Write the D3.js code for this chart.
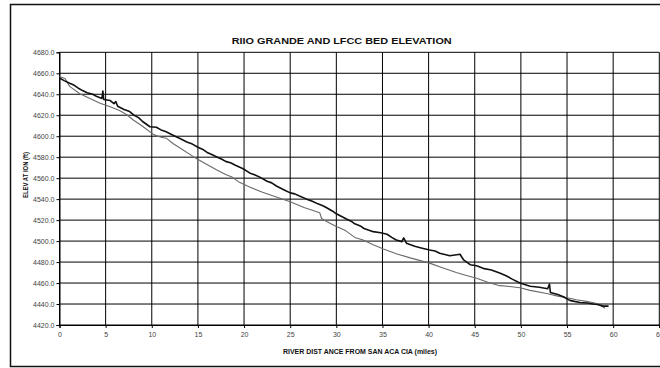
<!DOCTYPE html>
<html>
<head>
<meta charset="utf-8">
<script src="https://cdn.jsdelivr.net/npm/d3@7"></script>
<style>
  html, body { margin: 0; padding: 0; background: #fff; }
  svg { display: block; font-family: Arial, "Liberation Sans", sans-serif; }
</style>
</head>
<body>
<svg id="chart" width="660" height="368"></svg>
<script>
// River mile (from San Acacia) and bed elevation (ft) for the main channel
const rioMiles = [0, 0.5, 1.1, 1.6, 2, 2.5, 3, 3.6, 4, 4.6, 4.7, 4.8, 5.5, 5.9, 6.1, 6.3, 7, 7.6, 8, 8.6, 9, 9.8, 10.5, 11, 11.5, 12.3,
  13, 13.8, 14.4, 15, 15.6, 16, 16.5, 17, 17.6, 18, 18.6, 19, 19.9, 20.6, 21.2, 21.7, 22.5, 23, 23.5, 24.3, 25, 25.5, 26, 26.8, 27.4, 28, 28.6, 29, 29.6, 30, 31.1,
  31.6, 32, 32.6, 33, 34, 34.8, 35.5, 36, 36.5, 37.1, 37.3, 37.6, 38.5, 39.2, 40.1, 40.7, 41.2, 42.3, 43.4, 43.8, 44.5, 45.2, 45.9, 46.8, 47.7, 48.4, 49, 49.9,
  51, 52, 52.9, 53.1, 53.2, 54, 54.6, 55.3, 55.8, 56.4, 57.2, 57.8, 58.3, 58.9, 59.5];
const rioElev = [4655.5, 4653, 4650.5, 4648.5, 4646, 4643.5, 4641.5, 4640, 4638, 4636, 4643, 4635, 4634, 4631, 4633, 4628.5, 4625.5, 4623.5, 4620.5, 4617.5, 4614, 4609, 4608.5, 4606, 4604.5, 4601,
  4598, 4594.5, 4592.5, 4589.5, 4587, 4584.5, 4582.5, 4580.5, 4578, 4576, 4574.5, 4572.5, 4569, 4565, 4563, 4561, 4557, 4555.5, 4552.5, 4549, 4546, 4545, 4543, 4540, 4538, 4535.5, 4533.5, 4531.5, 4528.5, 4526, 4521,
  4519, 4516.5, 4514.5, 4512, 4509, 4508, 4506.5, 4503.5, 4501, 4499.5, 4503, 4498, 4495, 4493.5, 4491.5, 4490.5, 4488.5, 4486, 4487.5, 4482, 4477.5, 4476.5, 4474, 4472.5, 4469.5, 4467, 4464, 4460,
  4457, 4456, 4454.5, 4459, 4451, 4449, 4447, 4443.5, 4442.5, 4441.5, 4441, 4440, 4439.5, 4438, 4438];

// Low Flow Conveyance Channel bed elevation (ft)
const lfccMiles = [0, 0.6, 1.1, 2.2, 3.3, 4.4, 5.5, 6.5, 7.3, 8, 9, 10.2, 11, 11.6, 12.3, 13.1, 14.5, 15.5, 17, 18,
  18.7, 19.5, 20.6, 22, 23.5, 25, 26.5, 28.2, 28.4, 29, 30, 31, 32, 32.9, 34, 35.1, 36.5, 38, 40.1, 41.5,
  43, 44, 45.2, 46.5, 47.7, 49, 49.9, 51, 52.8, 54, 55.3, 56, 57.1, 58, 58.6, 59.1];
const lfccElev = [4657, 4655, 4647.5, 4640.5, 4636, 4631.5, 4628, 4624.5, 4620.5, 4615.5, 4609.5, 4601.5, 4599, 4598, 4593, 4588.5, 4580.5, 4575.5, 4568, 4563.5,
  4561, 4556, 4551.5, 4546.5, 4542, 4537.5, 4532, 4527, 4521.5, 4518.5, 4514, 4510, 4503.5, 4501, 4496.5, 4492.5, 4488, 4484, 4479, 4474.5,
  4470, 4467.5, 4464.5, 4460.5, 4457.5, 4456.5, 4455.5, 4453, 4450, 4447.5, 4445.5, 4444, 4442.5, 4441, 4439, 4436];

const xTicks = [0, 5, 10, 15, 20, 25, 30, 35, 40, 45, 50, 55, 60, 65];
const yTicks = [4420, 4440, 4460, 4480, 4500, 4520, 4540, 4560, 4580, 4600, 4620, 4640, 4660, 4680];

const titleText = "RIIO GRANDE AND LFCC BED ELEVATION";
const xTitleText = "RIVER DIST ANCE FROM SAN ACA CIA (miles)";
const yTitleText = "ELEV AT ION (ft)";

const svg = d3.select("#chart");

const plot = { left: 59.5, right: 659.3, top: 52.3, bottom: 325 };

const x = d3.scaleLinear().domain([0, 65]).range([plot.left, plot.right]);
const y = d3.scaleLinear().domain([4420, 4680]).range([plot.bottom, plot.top]);

// outer chart frame
svg.append("rect")
  .attr("x", 10.5).attr("y", 4.5)
  .attr("width", 670).attr("height", 362)
  .attr("fill", "#fff").attr("stroke", "#111").attr("stroke-width", 1.5);

// gridlines
const grid = svg.append("g");
grid.selectAll("line.h").data(yTicks).join("line")
  .attr("x1", plot.left).attr("x2", plot.right)
  .attr("y1", d => y(d)).attr("y2", d => y(d))
  .attr("stroke", "#000").attr("stroke-width", 1);
grid.selectAll("line.v").data(xTicks).join("line")
  .attr("y1", plot.top).attr("y2", plot.bottom)
  .attr("x1", d => x(d)).attr("x2", d => x(d))
  .attr("stroke", "#000").attr("stroke-width", 1);

// axes
const xAxis = d3.axisBottom(x).tickValues(xTicks).tickSize(3).tickPadding(3).tickFormat(d3.format("d"));
const yAxis = d3.axisLeft(y).tickValues(yTicks).tickSize(3).tickPadding(2).tickFormat(d3.format(".1f"));

const gx = svg.append("g").attr("transform", `translate(0,${plot.bottom})`).call(xAxis);
const gy = svg.append("g").attr("transform", `translate(${plot.left},0)`).call(yAxis);

[gx, gy].forEach(g => {
  g.select(".domain").attr("stroke", "#000").attr("stroke-width", 1);
  g.selectAll(".tick line").attr("stroke", "#000");
  g.selectAll(".tick text")
    .attr("fill", "#444")
    .style("font-size", "7px")
    .style("font-family", "Arial, 'Liberation Sans', sans-serif");
});
gx.selectAll(".tick text").attr("dy", "0.9em");

// series lines
const line = d3.line().x(d => x(d[0])).y(d => y(d[1]));

svg.append("path")
  .datum(d3.zip(lfccMiles, lfccElev))
  .attr("d", line)
  .attr("fill", "none")
  .attr("stroke", "#6a6a6a")
  .attr("stroke-width", 1.1)
  .attr("stroke-linejoin", "round");

svg.append("path")
  .datum(d3.zip(rioMiles, rioElev))
  .attr("d", line)
  .attr("fill", "none")
  .attr("stroke", "#111")
  .attr("stroke-width", 1.6)
  .attr("stroke-linejoin", "round");

// titles
svg.append("text")
  .attr("x", 341.7).attr("y", 44.3)
  .attr("text-anchor", "middle")
  .attr("textLength", 220).attr("lengthAdjust", "spacingAndGlyphs")
  .style("font-size", "9.6px").style("font-weight", "bold")
  .attr("fill", "#111")
  .text(titleText);

svg.append("text")
  .attr("x", 360).attr("y", 353.5)
  .attr("text-anchor", "middle")
  .attr("textLength", 154).attr("lengthAdjust", "spacingAndGlyphs")
  .style("font-size", "7px").style("font-weight", "bold")
  .attr("fill", "#111")
  .text(xTitleText);

svg.append("text")
  .attr("transform", "translate(27.5,175) rotate(-90)")
  .attr("text-anchor", "middle")
  .attr("textLength", 46).attr("lengthAdjust", "spacingAndGlyphs")
  .style("font-size", "6.5px").style("font-weight", "bold")
  .attr("fill", "#111")
  .text(yTitleText);
</script>
</body>
</html>
